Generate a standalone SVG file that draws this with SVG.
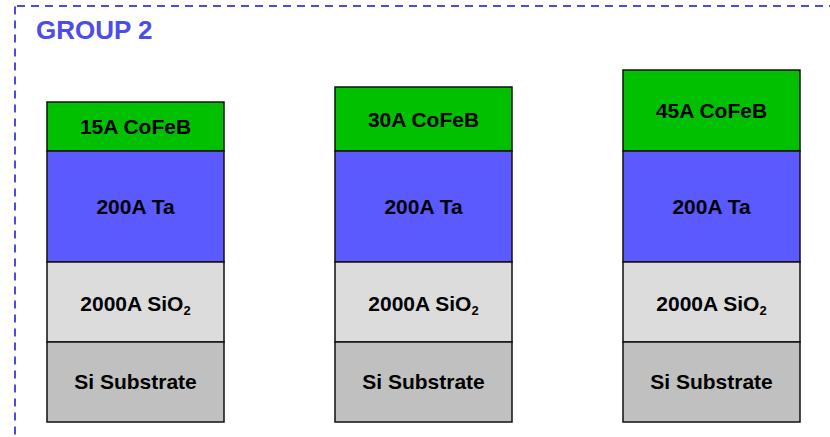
<svg xmlns="http://www.w3.org/2000/svg" width="830" height="437" viewBox="0 0 830 437">
  <style>
    .frame { fill: none; stroke: #4c4ce0; stroke-width: 2; stroke-dasharray: 8 6; }
    .title { font-family: "Liberation Sans", Arial, sans-serif; font-weight: bold; font-size: 26px; fill: #4c4ce8; }
    .layer { stroke: #111; stroke-width: 1.5; }
    .cofeb { fill: #00c000; }
    .ta { fill: #5a5aff; }
    .sio2 { fill: #dcdcdc; }
    .si { fill: #c0c0c0; }
    .lbl { font-family: "Liberation Sans", Arial, sans-serif; font-weight: bold; font-size: 21px; fill: #000; text-anchor: middle; }
    .sub { font-size: 13px; }
  </style>

  <!-- group frame -->
  <rect class="frame" x="15" y="6" width="900" height="500" rx="2"/>
  <text class="title" x="36" y="39">GROUP 2</text>

  <!-- sample 1 -->
  <g id="stack-15A">
    <rect class="layer cofeb" x="47" y="102" width="177" height="49"/>
    <rect class="layer ta" x="47" y="151" width="177" height="111"/>
    <rect class="layer sio2" x="47" y="262" width="177" height="80"/>
    <rect class="layer si" x="47" y="342" width="177" height="80"/>
    <text class="lbl" x="135.5" y="134">15A CoFeB</text>
    <text class="lbl" x="135.5" y="214">200A Ta</text>
    <text class="lbl" x="135.5" y="311">2000A SiO<tspan class="sub" dy="4">2</tspan></text>
    <text class="lbl" x="135.5" y="389">Si Substrate</text>
  </g>

  <!-- sample 2 -->
  <g id="stack-30A">
    <rect class="layer cofeb" x="335" y="87" width="177" height="64"/>
    <rect class="layer ta" x="335" y="151" width="177" height="111"/>
    <rect class="layer sio2" x="335" y="262" width="177" height="80"/>
    <rect class="layer si" x="335" y="342" width="177" height="80"/>
    <text class="lbl" x="423.5" y="126.5">30A CoFeB</text>
    <text class="lbl" x="423.5" y="214">200A Ta</text>
    <text class="lbl" x="423.5" y="311">2000A SiO<tspan class="sub" dy="4">2</tspan></text>
    <text class="lbl" x="423.5" y="389">Si Substrate</text>
  </g>

  <!-- sample 3 -->
  <g id="stack-45A">
    <rect class="layer cofeb" x="623" y="70" width="177" height="81"/>
    <rect class="layer ta" x="623" y="151" width="177" height="111"/>
    <rect class="layer sio2" x="623" y="262" width="177" height="80"/>
    <rect class="layer si" x="623" y="342" width="177" height="80"/>
    <text class="lbl" x="711.5" y="118">45A CoFeB</text>
    <text class="lbl" x="711.5" y="214">200A Ta</text>
    <text class="lbl" x="711.5" y="311">2000A SiO<tspan class="sub" dy="4">2</tspan></text>
    <text class="lbl" x="711.5" y="389">Si Substrate</text>
  </g>

  <g id="connectors"/>
</svg>
